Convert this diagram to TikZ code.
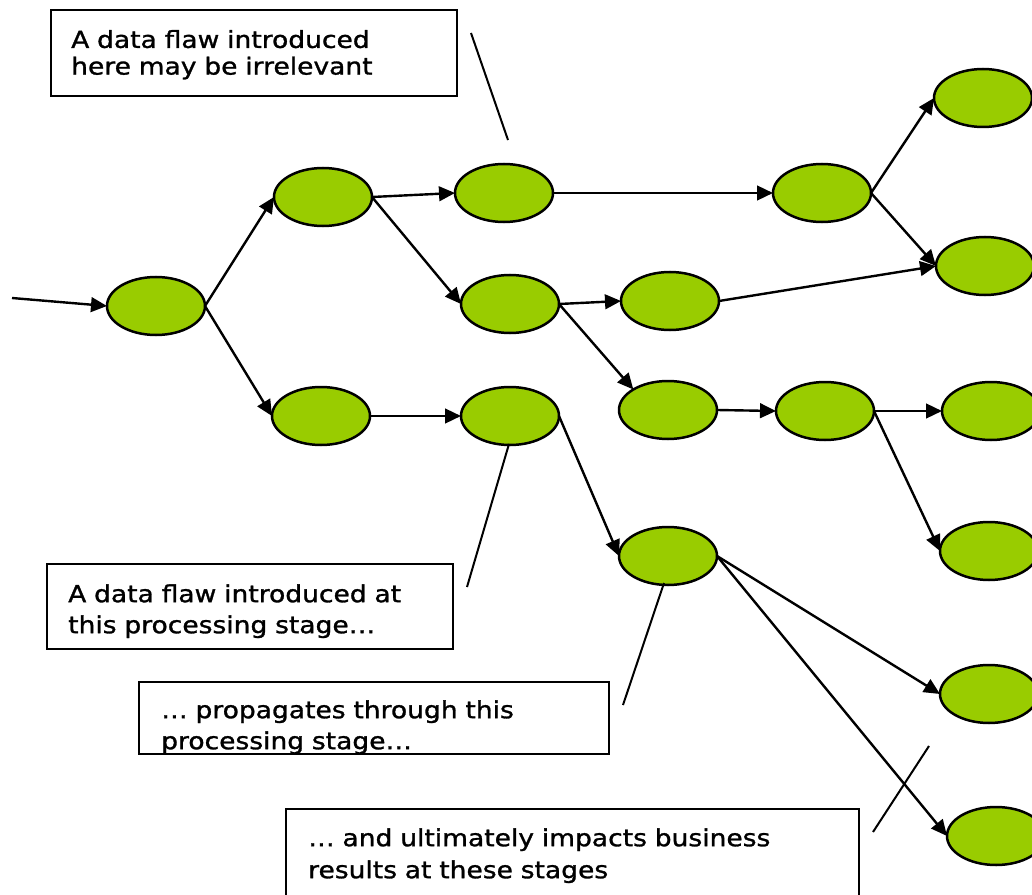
\documentclass[tikz,border=0pt]{standalone}
\usepackage{fontspec}
\setmainfont{DejaVu Sans}[FakeStretch=1.13,FakeBold=1.2]
\usetikzlibrary{arrows.meta,shapes.geometric}
\newlength{\unitpx}
\setlength{\unitpx}{0.75pt}
\definecolor{pGreen}{HTML}{99CC00}
\tikzset{
    stage/.style={ellipse, draw, line width=2.5\unitpx, fill=pGreen, inner sep=0pt, outer sep=0pt,
        minimum width=98\unitpx, minimum height=58\unitpx},
    flow/.style={line width=2.4\unitpx, -{Triangle[length=12pt,width=11pt]}},
    note/.style={draw, line width=2.4\unitpx, anchor=north west, align=left, inner ysep=0pt},
    callout/.style={line width=2\unitpx}
}

\begin{document}
\begin{tikzpicture}[x=0.75pt,y=-0.75pt]
\useasboundingbox (0,0) rectangle (1032,895);
\node[stage] (s1) at (156,306) {};
\node[stage] (s2) at (323,197) {};
\node[stage] (s3) at (321,416) {};
\node[stage] (s4) at (504,193) {};
\node[stage] (s5) at (510,304) {};
\node[stage] (s6) at (510,416) {};
\node[stage] (s7) at (670,301) {};
\node[stage] (s8) at (668,410) {};
\node[stage] (s9) at (825,411) {};
\node[stage] (s10) at (991,411) {};
\node[stage] (s11) at (989,551) {};
\node[stage] (s12) at (668,556) {};
\node[stage] (s13) at (983,98) {};
\node[stage] (s14) at (822,193) {};
\node[stage] (s15) at (985,266) {};
\node[stage] (s16) at (989,694) {};
\node[stage] (s17) at (996,836) {};
\coordinate (in) at (12,298);
\draw[flow] (in)--(s1.west);
\draw[flow] (s1.east)--(s2.west);
\draw[flow] (s1.east)--(s3.west);
\draw[flow] (s2.east)--(s4.west);
\draw[flow] (s2.east)--(s5.west);
\draw[flow] (s3.east)--(s6.west);
\draw[flow] (s4.east)--(s14.west);
\draw[flow] (s14.east)--(s13.west);
\draw[flow] (s14.east)--(s15.west);
\draw[flow] (s5.east)--(s7.west);
\draw[flow] (s7.east)--(s15.west);
\draw[flow] (s5.east)--(s8.north west);
\draw[flow] (s8.east)--(s9.west);
\draw[flow] (s9.east)--(s10.west);
\draw[flow] (s9.east)--(s11.west);
\draw[flow] (s6.east)--(s12.west);
\draw[flow] (s12.east)--(s16.west);
\draw[flow] (s12.east)--(s17.west);
\node[note, inner xsep=20\unitpx, text width=366\unitpx, text height=37.7\unitpx, text depth=48.3\unitpx,
    font=\fontsize{17.6pt}{20pt}\selectfont] (irrelevant) at (50,9)
    {A data flaw introduced\\here may be irrelevant};
\node[note, inner xsep=21\unitpx, text width=364\unitpx, text height=38\unitpx, text depth=47\unitpx,
    font=\fontsize{17.6pt}{23.25pt}\selectfont] (introduced) at (46,563)
    {A data flaw introduced at\\this processing stage…};
\node[note, inner xsep=22\unitpx, text width=426\unitpx, text height=36\unitpx, text depth=36\unitpx,
    font=\fontsize{17.6pt}{23.25pt}\selectfont] (propagates) at (138,681)
    {… propagates through this\\processing stage…};
\node[note, inner xsep=22\unitpx, text width=529\unitpx, text height=37\unitpx, text depth=100\unitpx,
    font=\fontsize{17.6pt}{24pt}\selectfont] (impacts) at (285,808)
    {… and ultimately impacts business\\results at these stages};
\coordinate (c1a) at (471,33);
\coordinate (c1b) at (508,140);
\coordinate (c2a) at (467,587);
\coordinate (c2b) at (509,444);
\coordinate (c3a) at (623,705);
\coordinate (c3b) at (664,583);
\coordinate (c4a) at (929,746);
\coordinate (c4b) at (873,832);
\draw[callout] (c1a)--(c1b);
\draw[callout] (c2a)--(c2b);
\draw[callout] (c3a)--(c3b);
\draw[callout] (c4a)--(c4b);
\end{tikzpicture}
\end{document}
